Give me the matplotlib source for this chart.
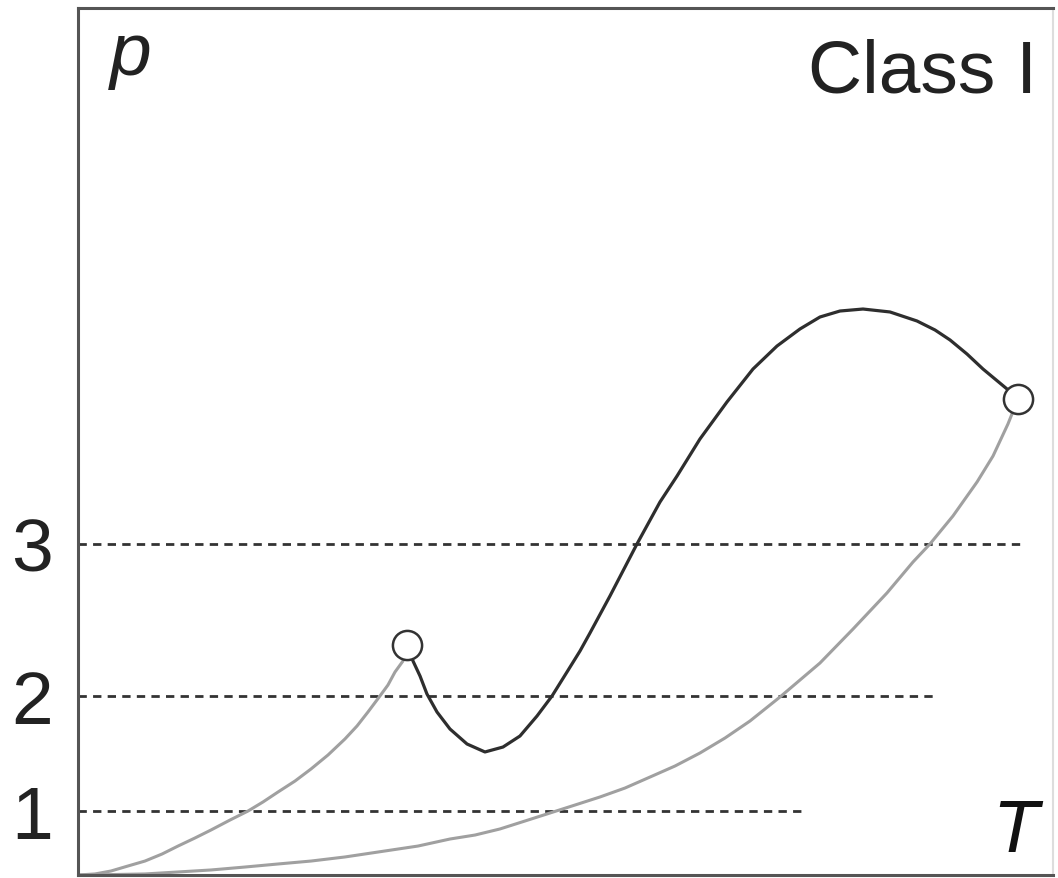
import matplotlib
matplotlib.use("Agg")
import matplotlib.pyplot as plt

plt.rcParams['font.family'] = ['Liberation Sans', 'DejaVu Sans']
plt.rcParams['lines.scale_dashes'] = False

# curves (T, p in arbitrary units)
left_T = [0.000, 0.174, 0.338, 0.513, 0.687, 0.862, 1.026, 1.200, 1.364, 1.559, 1.744, 1.897,
          2.051, 2.226, 2.390, 2.564, 2.738, 2.862, 2.974, 3.097, 3.179, 3.251, 3.333, 3.374]
left_p = [0.000, 0.012, 0.046, 0.104, 0.161, 0.242, 0.334, 0.427, 0.519, 0.634, 0.738, 0.842,
          0.957, 1.084, 1.223, 1.384, 1.569, 1.719, 1.880, 2.065, 2.191, 2.341, 2.468, 2.653]

loop_T = [3.374, 3.436, 3.508, 3.579, 3.682, 3.815, 3.990, 4.174, 4.359, 4.533, 4.708, 4.862,
          5.015, 5.149, 5.251, 5.456, 5.733, 5.969, 6.144, 6.379, 6.656, 6.923, 7.169, 7.405,
          7.610, 7.815, 8.051, 8.328, 8.605, 8.790, 8.944, 9.118, 9.282, 9.528, 9.641]
loop_p = [2.653, 2.468, 2.295, 2.088, 1.880, 1.684, 1.511, 1.419, 1.476, 1.603, 1.834, 2.065,
          2.341, 2.584, 2.791, 3.218, 3.818, 4.302, 4.602, 5.029, 5.456, 5.836, 6.101, 6.298,
          6.436, 6.505, 6.528, 6.494, 6.390, 6.286, 6.171, 6.009, 5.836, 5.606, 5.490]

low_T = [0.000, 0.338, 0.687, 1.026, 1.364, 1.713, 2.051, 2.390, 2.738, 3.077, 3.487, 3.815,
         4.072, 4.328, 4.585, 4.841, 5.097, 5.354, 5.610, 5.867, 6.123, 6.379, 6.636, 6.892,
         7.200, 7.405, 7.610, 7.949, 8.297, 8.564, 8.738, 8.974, 9.221, 9.385, 9.538, 9.641]
low_p = [0.000, 0.005, 0.012, 0.035, 0.058, 0.092, 0.127, 0.161, 0.208, 0.265, 0.334, 0.415,
         0.461, 0.531, 0.623, 0.715, 0.807, 0.900, 1.003, 1.130, 1.257, 1.407, 1.580, 1.776,
         2.053, 2.249, 2.445, 2.837, 3.253, 3.610, 3.818, 4.141, 4.533, 4.833, 5.202, 5.490]

# end points (circles)
ends_T = [3.374, 9.641]
ends_p = [2.653, 5.490]

# dashed pressure levels
level_labels = ['1', '2', '3']
level_p = [0.74, 2.06, 3.82]
level_end = [7.45, 8.78, 9.70]

fig = plt.figure(figsize=(10.58, 8.79), dpi=100)
ax = fig.add_axes([78/1058, 3/879, 975/1058, 867/879])

for y, xe in zip(level_p, level_end):
    ax.plot([0, xe], [y, y], color='#333333', lw=2.0, dashes=(6, 4.5), zorder=1)

ax.plot(left_T, left_p, color='#a0a0a0', lw=2.2, zorder=2)
ax.plot(low_T, low_p, color='#a0a0a0', lw=2.2, zorder=2)
ax.plot(loop_T, loop_p, color='#2e2e2e', lw=2.3, zorder=3)
ax.plot(ends_T, ends_p, 'o', ms=21, mfc='white', mec='#333333', mew=1.8, zorder=4)

ax.set_xlim(0, 10)
ax.set_ylim(0, 10)
ax.set_xticks([])
ax.set_yticks(level_p)
ax.set_yticklabels(level_labels)
ax.tick_params(axis='y', length=0, pad=18, labelsize=54, labelcolor='#222222')

for side in ['left', 'bottom', 'top']:
    ax.spines[side].set_color('#555555')
    ax.spines[side].set_linewidth(2.2)
ax.spines['right'].set_color('#dddddd')
ax.spines['right'].set_linewidth(1.5)

ax.text(0.033, 0.924, 'p', transform=ax.transAxes, fontsize=54, style='italic',
        ha='left', va='baseline', color='#222222')
ax.text(0.984, 0.904, 'Class I', transform=ax.transAxes, fontsize=54,
        ha='right', va='baseline', color='#222222')
ax.text(0.985, 0.028, 'T', transform=ax.transAxes, fontsize=54, style='italic',
        ha='right', va='baseline', color='#111111')

fig.savefig('out.png', dpi=100)
